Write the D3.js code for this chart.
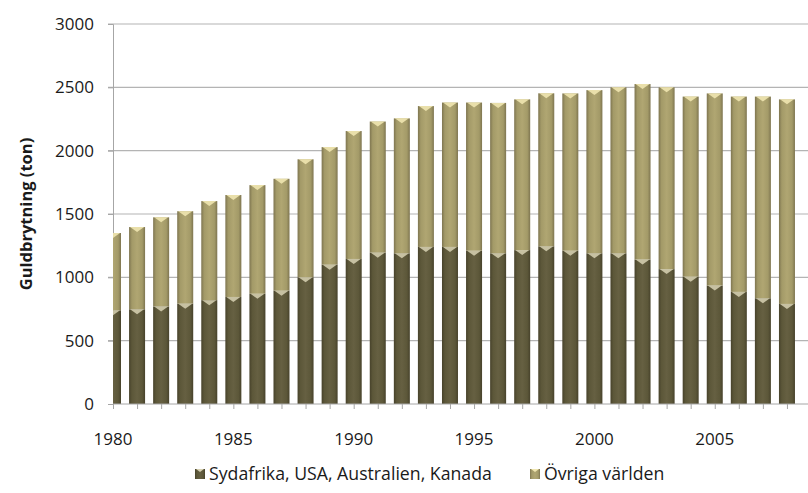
<!DOCTYPE html>
<html>
<head>
<meta charset="utf-8">
<script src="https://cdn.jsdelivr.net/npm/d3@7"></script>
<style>
  body { margin: 0; background: #fff; }
  svg { display: block; font-family: "Open Sans", sans-serif; }
</style>
</head>
<body>
<svg width="808" height="493"></svg>
<script>
// Data (ton per year)
var years = [1980, 1981, 1982, 1983, 1984, 1985, 1986, 1987, 1988, 1989,
             1990, 1991, 1992, 1993, 1994, 1995, 1996, 1997, 1998, 1999,
             2000, 2001, 2002, 2003, 2004, 2005, 2006, 2007, 2008];
var bigFour = [740, 748, 770, 792, 820, 845, 870, 895, 1000, 1100,
               1145, 1195, 1190, 1240, 1240, 1210, 1190, 1215, 1245, 1210,
               1190, 1190, 1140, 1065, 1005, 935, 885, 835, 790];
var totals = [1350, 1397, 1474, 1522, 1602, 1650, 1728, 1778, 1932, 2028,
              2155, 2230, 2255, 2352, 2380, 2380, 2377, 2405, 2453, 2452,
              2478, 2500, 2526, 2500, 2427, 2452, 2427, 2427, 2405];
var seriesNames = ["Sydafrika, USA, Australien, Kanada", "Övriga världen"];
var yTicks = [0, 500, 1000, 1500, 2000, 2500, 3000];
var xTickLabels = [1980, 1985, 1990, 1995, 2000, 2005];

var svg = d3.select("svg");
var plotLeft = 113, plotRight = 808, plotTop = 24, plotBottom = 404;

// Scales
var x = d3.scaleLinear().domain([1980, 2009]).range([plotLeft, plotLeft + 29 * 24.07]);
var y = d3.scaleLinear().domain([0, 3000]).range([plotBottom, plotTop]);
var barW = 16;

// Gradients for the rounded look of the bars
var defs = svg.append("defs");
function grad(id, edge, mid, center) {
  var g = defs.append("linearGradient").attr("id", id)
    .attr("x1", "0%").attr("x2", "100%").attr("y1", "0%").attr("y2", "0%");
  g.append("stop").attr("offset", "0%").attr("stop-color", edge);
  g.append("stop").attr("offset", "18%").attr("stop-color", mid);
  g.append("stop").attr("offset", "50%").attr("stop-color", center);
  g.append("stop").attr("offset", "82%").attr("stop-color", mid);
  g.append("stop").attr("offset", "100%").attr("stop-color", edge);
}
grad("gDark", "#47422b", "#5c5739", "#666042");
grad("gLight", "#7e7550", "#a39a68", "#b0a672");

defs.append("clipPath").attr("id", "plotClip")
  .append("rect").attr("x", plotLeft).attr("y", 0)
  .attr("width", plotRight - plotLeft).attr("height", plotBottom + 1);

// Gridlines
svg.append("g").selectAll("line")
  .data(yTicks.slice(1))
  .enter().append("line")
  .attr("x1", plotLeft - 5).attr("x2", plotRight)
  .attr("y1", function(d) { return y(d); })
  .attr("y2", function(d) { return y(d); })
  .attr("stroke", "#b4b4b4").attr("stroke-width", 1.2);

// Y axis
var yAxis = svg.append("g")
  .attr("transform", "translate(" + plotLeft + ",0)")
  .call(d3.axisLeft(y).tickValues(yTicks).tickFormat(d3.format("d")).tickSize(5).tickPadding(14));
yAxis.select(".domain").attr("stroke", "#a6a6a6");
yAxis.selectAll(".tick line").attr("stroke", "#a6a6a6");
yAxis.selectAll("text").attr("font-size", 17).attr("fill", "#1a1a1a")
  .attr("font-family", "Open Sans, sans-serif");

// Bars
var plot = svg.append("g").attr("clip-path", "url(#plotClip)");
var rows = years.map(function(yr, i) {
  return { year: yr, a: bigFour[i], b: totals[i] };
});

// light bevel on top of each segment
function cap(d, v) {
  var cx = x(d.year), yt = y(v);
  return "M" + (cx - barW / 2 + 1) + "," + yt +
         "L" + (cx + barW / 2 - 1) + "," + yt +
         "L" + cx + "," + (yt + 5) + "Z";
}

var bars = plot.selectAll("g.bar").data(rows).enter().append("g").attr("class", "bar");
bars.append("rect")
  .attr("x", function(d) { return x(d.year) - barW / 2; })
  .attr("y", function(d) { return y(d.a); })
  .attr("width", barW)
  .attr("height", function(d) { return y(0) - y(d.a); })
  .attr("fill", "url(#gDark)");
bars.append("rect")
  .attr("x", function(d) { return x(d.year) - barW / 2; })
  .attr("y", function(d) { return y(d.b); })
  .attr("width", barW)
  .attr("height", function(d) { return y(d.a) - y(d.b); })
  .attr("fill", "url(#gLight)");
bars.append("path")
  .attr("d", function(d) { return cap(d, d.a); })
  .attr("fill", "#d8d2b4").attr("opacity", 0.85);
bars.append("path")
  .attr("d", function(d) { return cap(d, d.b); })
  .attr("fill", "#f0e6b0").attr("opacity", 0.9);

// X axis
var xAxis = svg.append("g")
  .attr("transform", "translate(0," + plotBottom + ")")
  .call(d3.axisBottom(x).tickValues(d3.range(1980, 2010)).tickSize(5).tickFormat(""));
xAxis.select(".domain").attr("stroke", "#a6a6a6").attr("d", "M" + plotLeft + ",0H" + plotRight);
xAxis.selectAll(".tick line").attr("stroke", "#a6a6a6");

svg.append("g").selectAll("text")
  .data(xTickLabels)
  .enter().append("text")
  .attr("x", function(d) { return x(d); })
  .attr("y", 445)
  .attr("text-anchor", "middle")
  .attr("font-size", 17).attr("fill", "#1a1a1a")
  .text(function(d) { return d; });

// Y title
svg.append("text")
  .attr("transform", "translate(32," + ((plotTop + plotBottom) / 2) + ") rotate(-90)")
  .attr("text-anchor", "middle")
  .attr("font-size", 16.5).attr("font-weight", "bold").attr("fill", "#1a1a1a")
  .text("Guldbrytning (ton)");

// Legend
var legend = svg.append("g").selectAll("g")
  .data(seriesNames)
  .enter().append("g")
  .attr("transform", function(d, i) { return "translate(" + [195, 530][i] + ",469)"; });
legend.append("rect")
  .attr("width", 10).attr("height", 10)
  .attr("fill", function(d, i) { return i === 0 ? "url(#gDark)" : "url(#gLight)"; });
legend.append("path")
  .attr("d", "M1,0L9,0L5,3Z")
  .attr("fill", function(d, i) { return i === 0 ? "#d8d2b4" : "#f0e6b0"; });
legend.append("text")
  .attr("x", 14).attr("y", 11)
  .attr("font-size", 17.7).attr("fill", "#1a1a1a")
  .text(function(d) { return d; });
</script>
</body>
</html>
